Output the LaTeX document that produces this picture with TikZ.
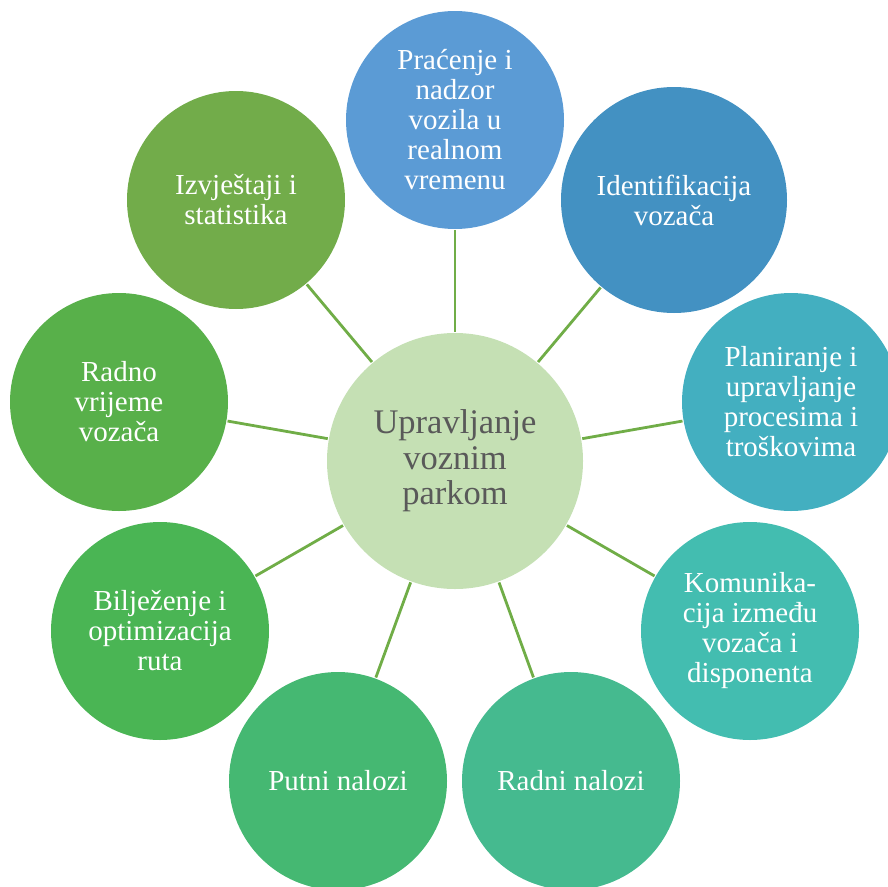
\documentclass[tikz,border=0pt]{standalone}
\usepackage{fontspec}
\setmainfont{Liberation Serif}
\definecolor{cTop}{HTML}{5B9BD5}
\definecolor{cIdent}{HTML}{4391C2}
\definecolor{cPlan}{HTML}{43AFC0}
\definecolor{cKom}{HTML}{43BDB0}
\definecolor{cRadni}{HTML}{45BA8F}
\definecolor{cPutni}{HTML}{45B872}
\definecolor{cBilj}{HTML}{4AB554}
\definecolor{cRadno}{HTML}{58B04A}
\definecolor{cIzv}{HTML}{72AC4A}
\definecolor{hubfill}{HTML}{C5E0B4}
\definecolor{hubtext}{HTML}{595959}
\definecolor{spokecol}{HTML}{70AD47}
\begin{document}
\begin{tikzpicture}[x=1pt,y=-1pt,
  outer/.style={circle, minimum size=218pt, inner sep=0pt, text=white,
    font=\fontsize{29}{30}\selectfont, align=center},
  hub/.style={circle, fill=hubfill, minimum size=256pt, inner sep=0pt,
    text=hubtext, font=\fontsize{34.5}{35.5}\selectfont, align=center},
  spoke/.style={draw=spokecol, line width=2.8pt, shorten <=1pt, shorten >=1pt}]
\useasboundingbox (0,0) rectangle (888,886);
\node[hub] (hub) at (455,461) {Upravljanje\\voznim\\parkom};
\node[outer, fill=cTop]   (top)   at (455,120) {Praćenje i\\nadzor\\vozila u\\realnom\\vremenu};
\node[outer, fill=cIdent, minimum size=226pt] (ident) at (674,200) {Identifikacija\\vozača};
\node[outer, fill=cPlan]  (plan)  at (791,402) {Planiranje i\\upravljanje\\procesima i\\troškovima};
\node[outer, fill=cKom]   (kom)   at (750,631) {Komunika-\\cija između\\vozača i\\disponenta};
\node[outer, fill=cRadni] (radni) at (571,781) {Radni nalozi};
\node[outer, fill=cPutni] (putni) at (338,781) {Putni nalozi};
\node[outer, fill=cBilj]  (bilj)  at (160,631) {Bilježenje i\\optimizacija\\ruta};
\node[outer, fill=cRadno] (radno) at (119,402) {Radno\\vrijeme\\vozača};
\node[outer, fill=cIzv]   (izv)   at (236,200) {Izvještaji i\\statistika};
\foreach \n in {top,ident,plan,kom,radni,putni,bilj,radno,izv}
  \draw[spoke] (hub) -- (\n);
\end{tikzpicture}
\end{document}
